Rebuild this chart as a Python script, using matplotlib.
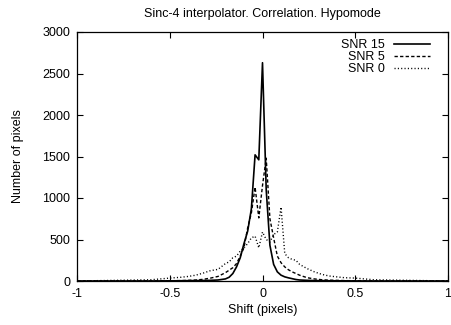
import matplotlib
matplotlib.use("Agg")
import matplotlib.pyplot as plt

plt.rcParams['font.family'] = ['Liberation Sans', 'DejaVu Sans']

title = "Sinc-4 interpolator. Correlation. Hypomode"
xlabel = "Shift (pixels)"
ylabel = "Number of pixels"
labels = ["SNR 15", "SNR 5", "SNR 0"]

shift = [-1.0, -0.6, -0.5, -0.44, -0.4, -0.36, -0.32, -0.28, -0.24, -0.2, -0.18,
         -0.16, -0.14, -0.12, -0.1, -0.08, -0.06, -0.04, -0.02, 0.0, 0.02, 0.04,
         0.06, 0.08, 0.1, 0.12, 0.14, 0.16, 0.18, 0.2, 0.24, 0.28, 0.32, 0.36,
         0.4, 0.44, 0.5, 0.6, 1.0]

snr15 = [0, 0, 2, 3, 4, 5, 6, 8, 12, 25, 45,
         90, 170, 280, 450, 600, 870, 1520, 1460, 2630, 1100, 430,
         200, 110, 70, 50, 38, 28, 18, 12, 8, 5, 4, 3,
         2, 2, 1, 0, 0]

snr5 = [0, 1, 3, 5, 8, 12, 20, 35, 55, 100, 130,
        160, 210, 300, 400, 640, 820, 1130, 760, 1150, 1480, 750,
        520, 300, 220, 170, 135, 110, 90, 70, 40, 25, 15, 10,
        8, 5, 3, 1, 0]

snr0 = [0, 15, 35, 45, 55, 70, 95, 125, 140, 210, 230,
        280, 300, 360, 400, 450, 520, 540, 400, 590, 500, 470,
        560, 590, 890, 330, 280, 260, 250, 200, 150, 110, 80, 60,
        50, 40, 35, 15, 0]

fig = plt.figure(figsize=(4.51, 3.25), dpi=100)
ax = fig.add_axes([77/451, 1-281/325, (448-77)/451, (281-32)/325])

ax.plot(shift, snr15, color='black', lw=1.2, label=labels[0])
ax.plot(shift, snr5, color='black', lw=1.0, dashes=(2.4, 1.6), label=labels[1])
ax.plot(shift, snr0, color='black', lw=1.0, dashes=(0.8, 1.6), label=labels[2])

ax.set_xlim(-1, 1)
ax.set_ylim(0, 3000)
ax.set_xticks([-1, -0.5, 0, 0.5, 1])
ax.set_xticklabels(["-1", "-0.5", "0", "0.5", "1"])
ax.set_yticks([0, 500, 1000, 1500, 2000, 2500, 3000])
ax.tick_params(direction='in', length=4, width=0.8, top=True, right=True,
               labelsize=9, pad=5)
for s in ax.spines.values():
    s.set_linewidth(0.9)

ax.set_title(title, fontsize=9, pad=11)
ax.set_xlabel(xlabel, fontsize=9, labelpad=3)
ax.set_ylabel(ylabel, fontsize=9, labelpad=13)

leg = ax.legend(loc='upper right', frameon=False, markerfirst=False,
                fontsize=9, handlelength=2.9, handletextpad=0.7,
                labelspacing=0.0, borderaxespad=0.0,
                bbox_to_anchor=(1 - 13/371, 1 - 2/249))
for t in leg.get_texts():
    t.set_ha('right')

fig.savefig("out.png", dpi=100)
